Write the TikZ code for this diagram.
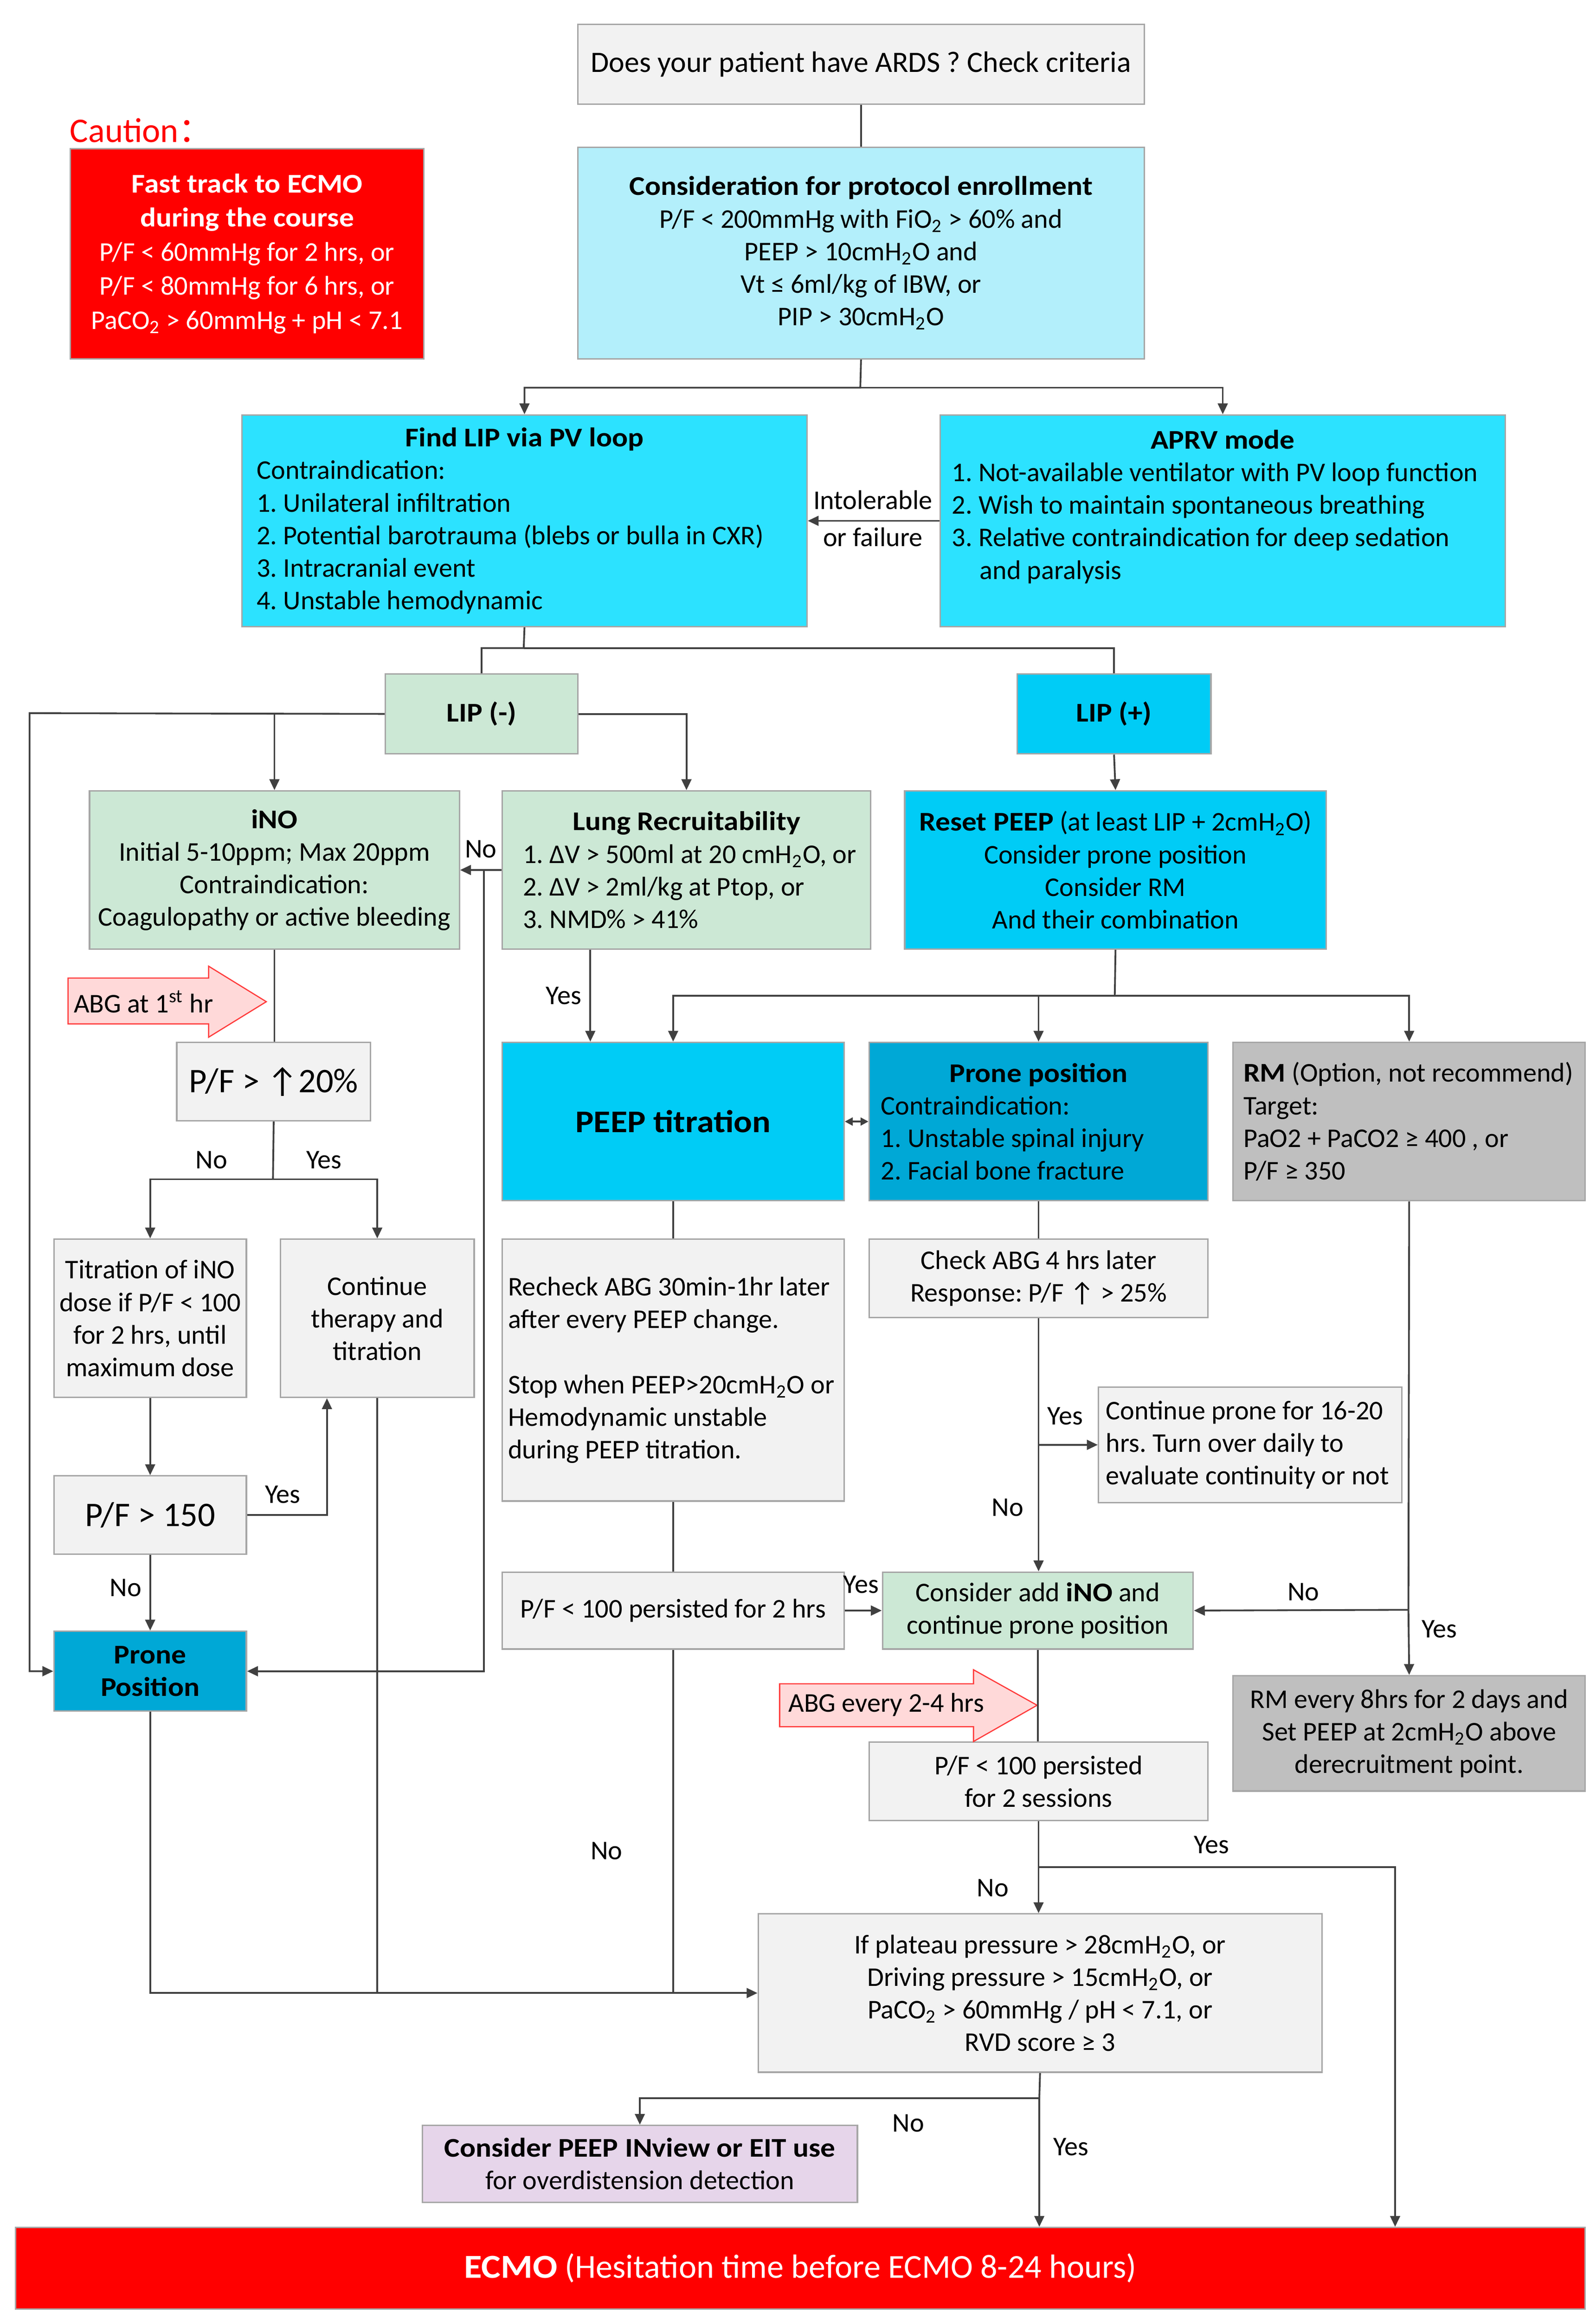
\documentclass[tikz,border=0pt]{standalone}
\usepackage{fontspec}
\setmainfont{Carlito}[BoldFeatures={FakeStretch=1.09}]
\newfontfamily\cjk{Noto Sans CJK SC}
\usetikzlibrary{arrows.meta}
\setlength{\parindent}{0pt}
\frenchspacing
\definecolor{bordc}{HTML}{A6A6A6}
\definecolor{linec}{HTML}{404040}
\definecolor{grayfill}{HTML}{F2F2F2}
\definecolor{cautred}{HTML}{FF0000}
\definecolor{lcyan}{HTML}{B3EFFB}
\definecolor{bcyan}{HTML}{2CE2FF}
\definecolor{mcyan}{HTML}{00CCF6}
\definecolor{dcyan}{HTML}{00A8D6}
\definecolor{lgreen}{HTML}{CCE8D5}
\definecolor{rmgray}{HTML}{BFBFBF}
\definecolor{lav}{HTML}{E6D5EA}
\definecolor{pinkf}{HTML}{FFD9D9}
\definecolor{pinkb}{HTML}{FF3B3B}
\newcommand\normsz{\fontsize{13.7pt}{16.5pt}\selectfont}
\newcommand\bigsz{\fontsize{17.5pt}{21pt}\selectfont}
\newcommand\sub[1]{\textsubscript{#1}}
\newcommand\ns{\spaceskip=0pt\xspaceskip=0pt\relax}
\newcommand\BX[7][]{\node[box,#1,anchor=north west,minimum width={(#5-#3)*0.75pt},minimum height={(#6-#4)*0.75pt}] (#2) at (#3,#4) {\ns #7};}
\tikzset{
  box/.style={draw=bordc, line width=0.75pt, inner sep=0pt, align=center, font=\normsz},
  lbox/.style={align=left},
  ln/.style={draw=linec, line width=0.9pt},
  arr/.style={ln, -{Triangle[length=5.5pt,width=5pt]}},
  darr/.style={ln, {Triangle[length=4pt,width=4pt]}-{Triangle[length=4pt,width=4pt]}},
  lab/.style={font=\normsz, inner sep=0pt},
  pinkarrow/.style={fill=pinkf, draw=pinkb, line width=0.6pt},
}
\begin{document}
\begin{tikzpicture}[x=0.75pt,y=-0.75pt]
\useasboundingbox (0,0) rectangle (1078.5,1568);

% ---------- boxes ----------
\BX[fill=grayfill, font=\fontsize{15pt}{18pt}\selectfont]{ards}{390}{16}{773}{70}{Does your patient have ARDS ? Check criteria}
\node[lab, text=cautred, font=\fontsize{17.5pt}{20pt}\selectfont, anchor=west] (cautlab) at (47,88) {Caution{\cjk ：}};
\BX[fill=cautred, text=white, font=\fontsize{13.7pt}{17.25pt}\selectfont]{caution}{47}{100}{286}{242}{\textbf{Fast track to ECMO}\\ \textbf{during the course}\\ P/F < 60mmHg for 2 hrs, or\\ P/F < 80mmHg for 6 hrs, or\\ PaCO\sub{2} > 60mmHg + pH < 7.1}
\BX[fill=lcyan]{cons}{390}{99}{773}{242}{\textbf{Consideration for protocol enrollment}\\ P/F < 200mmHg with FiO\sub{2} > 60\% and\\ PEEP > 10cmH\sub{2}O and\\ Vt ≤ 6ml/kg of IBW, or\\ PIP > 30cmH\sub{2}O}
\BX[fill=bcyan, lbox, text width=271.5pt]{findlip}{163}{280}{545}{423}{\makebox[\hsize]{\textbf{Find LIP via PV loop}}\\ \mbox{Contraindication:}\\ \mbox{1. Unilateral infiltration}\\ \mbox{2. Potential barotrauma (blebs or bulla in CXR)}\\ \mbox{3. Intracranial event}\\ \mbox{4. Unstable hemodynamic}}
\BX[fill=bcyan, lbox, text width=274.5pt]{aprv}{635}{280}{1017}{423}{\makebox[\hsize]{\textbf{APRV mode}}\\ \mbox{1. Not-available ventilator with PV loop function}\\ \mbox{2. Wish to maintain spontaneous breathing}\\ \mbox{3. Relative contraindication for deep sedation}\\ \mbox{\hspace*{14pt}and paralysis}\\ \mbox{}}
\BX[fill=lgreen]{lipm}{260}{455}{390}{509}{\textbf{LIP (-)}}
\BX[fill=mcyan]{lipp}{687}{455}{818}{509}{\textbf{LIP (+)}}
\BX[fill=lgreen]{ino}{60}{534}{310}{641}{\textbf{iNO}\\ Initial 5-10ppm; Max 20ppm\\ Contraindication:\\ Coagulopathy or active bleeding}
\BX[fill=lgreen, lbox, text width=165.75pt]{lung}{339}{534}{588}{641}{\makebox[\hsize]{\textbf{Lung Recruitability}}\\ \mbox{1. ΔV > 500ml at 20 cmH\sub{2}O, or}\\ \mbox{2. ΔV > 2ml/kg at Ptop, or}\\ \mbox{3. NMD\% > 41\%}}
\BX[fill=mcyan]{reset}{611}{534}{896}{641}{\textbf{Reset PEEP} (at least LIP + 2cmH\sub{2}O)\\ Consider prone position\\ Consider RM\\ And their combination}
\BX[fill=grayfill, font=\bigsz]{pf20}{119}{704}{250}{757}{P/F > ↑20\%}
\BX[fill=mcyan, font=\fontsize{16pt}{20pt}\selectfont\bfseries]{peep}{339}{704}{570}{811}{PEEP titration}
\BX[fill=dcyan, lbox, text width=159.75pt]{prone2}{587}{704}{816}{811}{\makebox[\hsize]{\textbf{Prone position}}\\ \mbox{Contraindication:}\\ \mbox{1. Unstable spinal injury}\\ \mbox{2. Facial bone fracture}}
\BX[fill=rmgray, lbox, text width=168pt]{rm}{833}{704}{1071}{811}{\mbox{\textbf{RM} (Option, not recommend)}\\ \mbox{Target:}\\ \mbox{PaO2 + PaCO2 ≥ 400 , or}\\ \mbox{P/F ≥ 350}}
\BX[fill=grayfill]{titr}{36}{837}{166}{944}{Titration of iNO\\ dose if P/F < 100\\ for 2 hrs, until\\ maximum dose}
\BX[fill=grayfill]{cont}{189}{837}{320}{944}{Continue\\ therapy and\\ titration}
\BX[fill=grayfill, lbox, text width=167.25pt]{recheck}{339}{837}{570}{1014}{\mbox{Recheck ABG 30min-1hr later}\\ \mbox{after every PEEP change.}\\ \mbox{}\\ \mbox{Stop when PEEP>20cmH\sub{2}O or}\\ \mbox{Hemodynamic unstable}\\ \mbox{during PEEP titration.}}
\BX[fill=grayfill]{checkabg}{587}{837}{816}{890}{Check ABG 4 hrs later\\ Response: P/F ↑ > 25\%}
\BX[fill=grayfill, lbox, text width=146.25pt]{contprone}{742}{937}{947}{1015}{\mbox{Continue prone for 16-20}\\ \mbox{hrs. Turn over daily to}\\ \mbox{evaluate continuity or not}}
\BX[fill=grayfill, font=\bigsz]{pf150}{36}{997}{166}{1050}{P/F > 150}
\BX[fill=grayfill]{pf2h}{339}{1062}{570}{1114}{P/F < 100 persisted for 2 hrs}
\BX[fill=lgreen]{addino}{596}{1062}{806}{1114}{Consider add \textbf{iNO} and\\ continue prone position}
\BX[fill=dcyan]{prone1}{36}{1102}{166}{1156}{\textbf{Prone}\\ \textbf{Position}}
\BX[fill=rmgray]{rm8}{833}{1132}{1071}{1210}{RM every 8hrs for 2 days and\\ Set PEEP at 2cmH\sub{2}O above\\ derecruitment point.}
\BX[fill=grayfill]{pf2s}{587}{1177}{816}{1230}{P/F < 100 persisted\\ for 2 sessions}
\BX[fill=grayfill]{plat}{512}{1293}{893}{1400}{If plateau pressure > 28cmH\sub{2}O, or\\ Driving pressure > 15cmH\sub{2}O, or\\ PaCO\sub{2} > 60mmHg / pH < 7.1, or\\ RVD score ≥ 3}
\BX[fill=lav]{inview}{285}{1436}{579}{1488}{\textbf{Consider PEEP INview or EIT use}\\ for overdistension detection}
\BX[fill=cautred, text=white, font=\fontsize{17pt}{20pt}\selectfont]{ecmo}{10}{1505}{1071}{1560}{\textbf{ECMO} (Hesitation time before ECMO 8-24 hours)}

% ---------- pink arrows ----------
\draw[pinkarrow] (46,661) -- (141,661) -- (141,653) -- (180,677) -- (141,701) -- (141,692) -- (46,692) -- cycle;
\node[lab] (abg1) at (97,677) {ABG at 1\textsuperscript{st} hr};
\draw[pinkarrow] (527,1138) -- (658,1138) -- (658,1128.5) -- (701,1152.5) -- (658,1177) -- (658,1167) -- (527,1167) -- cycle;
\node[lab] (abg2) at (599,1152) {ABG every 2-4 hrs};

% ---------- connectors ----------
\coordinate (j1) at (581.5,262);
\draw[ln] (ards.south) -- (cons.north);
\draw[arr] (cons.south) -- (j1) -| (findlip.north);
\draw[arr] (j1) -| (aprv.north);
\draw[arr] (aprv.west) -- (findlip.east);
\node[lab] (intol) at (590,338) {Intolerable};
\node[lab] (orfail) at (590,363) {or failure};

\coordinate (j2) at (354,438);
\draw[ln] (findlip.south) -- (j2) -| (lipm.north);
\draw[ln] (j2) -| (lipp.north);

\coordinate (j3) at (20,482);
\draw[arr] (lipm.west) -- (j3) |- (prone1.west);
\draw[arr] (lipm.west -| ino.north) -- (ino.north);
\draw[arr] (lipm.east) -| (lung.north);
\draw[arr] (lung.west) -- (ino.east);
\node[lab] (no1) at (325,574) {No};
\coordinate (j4) at (327,587.5);
\draw[arr] (j4) |- (prone1.east);

\coordinate (lyx) at (399,0);
\draw[arr] (lyx |- lung.south) -- (lyx |- peep.north);
\node[lab] (yes1) at (381,673) {Yes};

\draw[ln] (ino.south) -- (ino.south |- pf20.north);
\coordinate (j6) at (184.5,797);
\draw[ln] (pf20.south) -- (j6);
\draw[arr] (j6) -| (titr.north);
\draw[arr] (j6) -| (cont.north);
\node[lab] (no2) at (143,784) {No};
\node[lab] (yes2) at (219,784) {Yes};
\draw[arr] (titr.south) -- (pf150.north);
\coordinate (cx) at (221,0);
\draw[arr] (pf150.east) -| (cx |- cont.south);
\node[lab] (yes3) at (191,1010) {Yes};
\draw[arr] (pf150.south) -- (prone1.north);
\node[lab] (no3) at (85,1073) {No};
\draw[arr] (prone1.south) |- (plat.west);
\draw[ln] (cont.south) -- (cont.south |- plat.west);
\draw[ln] (pf2h.south) -- (pf2h.south |- plat.west);
\node[lab] (no4) at (410,1251) {No};

\draw[arr] (lipp.south) -- (reset.north);
\coordinate (j7) at (753.5,673);
\draw[ln] (reset.south) -- (j7);
\draw[arr] (j7) -| (peep.north);
\draw[arr] (j7) -| (prone2.north);
\draw[arr] (j7) -| (rm.north);
\draw[darr] (peep.east) -- (prone2.west);
\draw[ln] (peep.south) -- (recheck.north);
\draw[ln] (recheck.south) -- (pf2h.north);
\draw[arr] (pf2h.east) -- (addino.west);
\node[lab] (yes4) at (582,1071) {Yes};
\draw[ln] (prone2.south) -- (checkabg.north);
\draw[arr] (checkabg.south) -- (checkabg.south |- addino.north);
\draw[arr] (checkabg.south |- contprone.west) -- (contprone.west);
\node[lab] (yes5) at (720,957) {Yes};
\node[lab] (no5) at (681,1019) {No};
\coordinate (j8) at (952,1088);
\draw[ln] (rm.south) -- (j8);
\draw[arr] (j8) -- (addino.east);
\draw[arr] (j8) -- (rm8.north);
\node[lab] (no6) at (881,1076) {No};
\node[lab] (yes6) at (973,1101) {Yes};
\draw[ln] (addino.south) -- (addino.south |- pf2s.north);
\draw[arr] (pf2s.south) -- (pf2s.south |- plat.north);
\coordinate (j9) at (701.5,1262);
\coordinate (ex) at (943,0);
\draw[arr] (j9) -| (ex |- ecmo.north);
\node[lab] (yes7) at (819,1247) {Yes};
\node[lab] (no7) at (671,1276) {No};
\coordinate (j10) at (702.5,1418);
\draw[ln] (plat.south) -- (j10);
\draw[arr] (j10) -| (inview.north);
\draw[arr] (j10) -- (j10 |- ecmo.north);
\node[lab] (no8) at (614,1435) {No};
\node[lab] (yes8) at (724,1451) {Yes};
\end{tikzpicture}
\end{document}
